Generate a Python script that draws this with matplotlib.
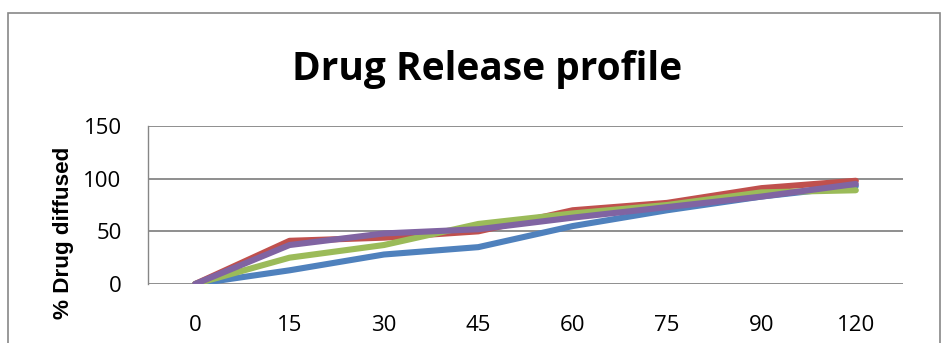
import matplotlib
matplotlib.use("Agg")
import matplotlib.pyplot as plt
from matplotlib.patches import Rectangle

time_labels = ["0", "15", "30", "45", "60", "75", "90", "120"]
series_blue = [0, 13, 28, 35, 55, 70, 83, 93]
series_red = [0, 41, 44, 50, 70, 77, 91, 98]
series_green = [0, 25, 37, 57, 67, 75, 87, 89]
series_purple = [0, 37, 48, 52, 63, 73, 83, 95]
y_ticks = [0, 50, 100, 150]

colors = ["#4F81BD", "#C0504D", "#9BBB59", "#8064A2"]

fig = plt.figure(figsize=(9.52, 3.43), dpi=100)
fig.patch.set_facecolor("white")
# outer chart frame
fig.patches.append(Rectangle((8 / 952, -0.05), (940 - 8) / 952, 1.05 - 13 / 343,
                             transform=fig.transFigure, fill=False,
                             edgecolor="#888888", linewidth=1.2))

ax = fig.add_axes([148 / 952, 1 - 284 / 343, (903 - 148) / 952, (284 - 126) / 343])
x = list(range(len(time_labels)))
for s, c in zip([series_blue, series_red, series_green, series_purple], colors):
    ax.plot(x, s, color=c, linewidth=4.4, solid_capstyle="round", solid_joinstyle="round", zorder=3)

ax.set_xlim(-0.5, len(time_labels) - 0.5)
ax.set_ylim(0, 150)
ax.set_yticks(y_ticks)
ax.set_yticklabels([str(v) for v in y_ticks], fontfamily="Open Sans", fontsize=16)
ax.set_xticks(x)
ax.set_xticklabels(time_labels, fontfamily="Open Sans", fontsize=16)
ax.tick_params(length=0)
ax.tick_params(axis="x", pad=22)
ax.tick_params(axis="y", pad=19)
ax.grid(axis="y", color="#868686", linewidth=1.3)
ax.set_axisbelow(True)
for side in ["top", "right", "bottom"]:
    ax.spines[side].set_visible(False)
ax.spines["left"].set_color("#868686")
ax.spines["left"].set_linewidth(1.0)

ax.set_ylabel("% Drug diffused", fontfamily="Liberation Sans", fontweight="bold", fontsize=16.2)
ax.yaxis.set_label_coords(-0.098, 0.323)
fig.text(487 / 952, 1 - 80 / 343, "Drug Release profile", ha="center", va="baseline",
         fontfamily="Open Sans", fontweight="bold", fontsize=28)

fig.savefig("out.png", dpi=100)
